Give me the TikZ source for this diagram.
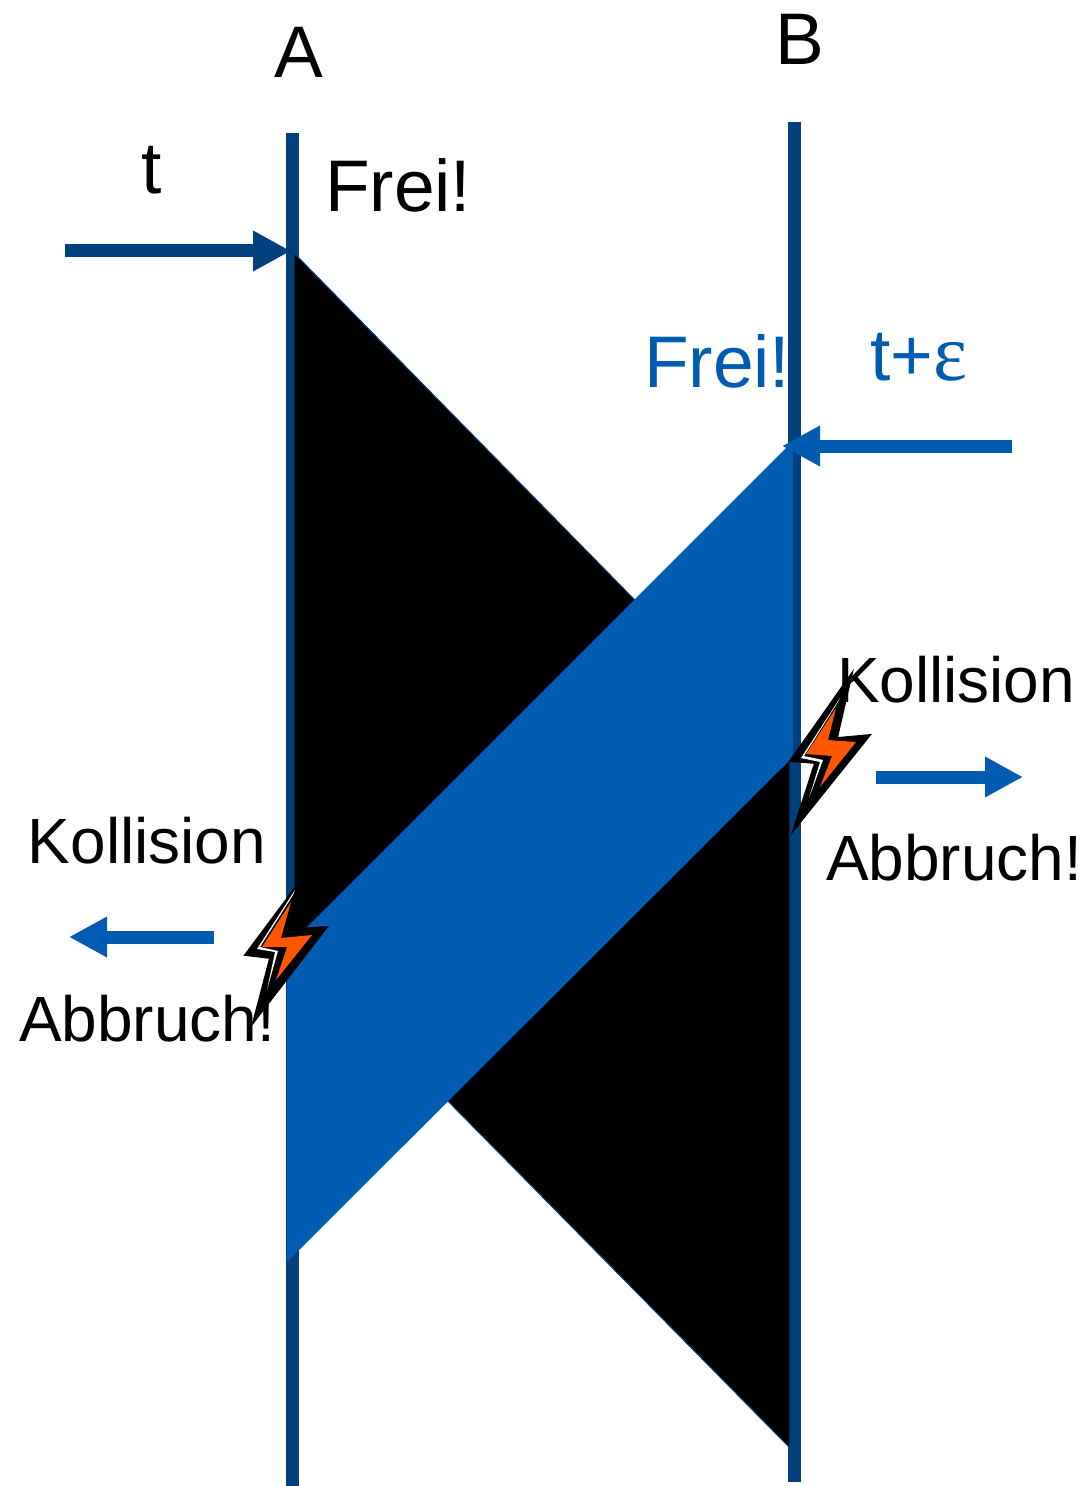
\documentclass[tikz,border=0pt]{standalone}
\usepackage{fontspec}
\setmainfont{Liberation Sans}
\newfontfamily\greekserif{Liberation Serif}
\usetikzlibrary{arrows.meta}
\definecolor{darkline}{RGB}{0,64,124}
\definecolor{blueband}{RGB}{0,92,176}
\definecolor{boltorange}{RGB}{255,84,0}
\tikzset{
  x=0.02cm,y=-0.02cm,
  station/.style={draw=darkline,line width=13*0.02cm},
  blockarrow/.style={line width=13*0.02cm,-{Triangle[length=38*0.02cm,width=38*0.02cm]}},
  lbl/.style={anchor=base,inner sep=0pt,outer sep=0pt,font=\fontsize{36.4}{36.4}\selectfont},
  biglbl/.style={anchor=base,inner sep=0pt,outer sep=0pt,font=\fontsize{41.6}{41.6}\selectfont},
  boltout/.style={fill=black,draw=black,line width=1pt,line join=miter},
  boltwhite/.style={fill=white},
  boltin/.style={fill=boltorange},
}
\begin{document}
\begin{tikzpicture}
\useasboundingbox (0,0) rectangle (1091,1486);
% stations
\coordinate (Atop) at (292,133); \coordinate (Abot) at (292,1486);
\coordinate (Btop) at (794,122); \coordinate (Bbot) at (794,1482);
\draw[station] (Atop) -- (Abot);
\draw[station] (Btop) -- (Bbot);
% frames
\fill[black,draw=darkline,line width=0.6pt] (294,253) -- (790,758) -- (790,1448) -- (294,945) -- cycle;
\fill[blueband] (793,441) -- (793,757) -- (287,1262) -- (287,947) -- cycle;
% arrows
\coordinate (t1) at (65,251); \coordinate (t2) at (291,251);
\draw[blockarrow,darkline] (t1) -- (t2);
\coordinate (e1) at (1012,446); \coordinate (e2) at (782,446);
\draw[blockarrow,blueband] (e1) -- (e2);
\coordinate (r1) at (876,777); \coordinate (r2) at (1023,777);
\draw[blockarrow,blueband] (r1) -- (r2);
\coordinate (l1) at (214,937); \coordinate (l2) at (69,937);
\draw[blockarrow,blueband] (l1) -- (l2);
% left bolt
\path[boltout] (295,888) -- (245,955) -- (270,958) -- (253,1023) -- (327,927) -- (294,929) -- cycle;
\path[boltwhite] (295,890) -- (257,949) -- (275,952) -- (267,990) -- (278,951) -- (260,947) -- (293,895) -- cycle;
\path[boltin] (291,902) -- (262,947) -- (287,947) -- (276,980) -- (312,935) -- (281,938) -- cycle;
% right bolt
\path[boltout] (852,673) -- (790,761) -- (815,763) -- (793,831) -- (870,735) -- (837,738) -- cycle;
\path[boltwhite] (840,698) -- (801,758) -- (820,762) -- (809,798) -- (823,760) -- (804,756) -- (838,702) -- cycle;
\path[boltin] (836,708) -- (806,754) -- (832,756) -- (820,787) -- (856,742) -- (828,740) -- cycle;
% labels
\node[biglbl] (A) at (299,78) {A};
\node[biglbl] (B) at (800,65) {B};
\node[biglbl] (t) at (152,194) {t};
\node[biglbl,anchor=base west] (frei1) at (325,212) {Frei!};
\node[biglbl,anchor=base west,text=blueband] (frei2) at (644,388) {Frei!};
\node[biglbl,anchor=base west,text=blueband] (teps) at (870,380) {t+{\greekserif\fontsize{46}{46}\selectfont ε}};
\node[lbl,anchor=base west] (koll1) at (28,863) {Kollision};
\node[lbl,anchor=base west] (abb1) at (19,1041) {Abbruch!};
\node[lbl,anchor=base west] (koll2) at (837,702) {Kollision};
\node[lbl,anchor=base west] (abb2) at (826,880) {Abbruch!};
\end{tikzpicture}
\end{document}
